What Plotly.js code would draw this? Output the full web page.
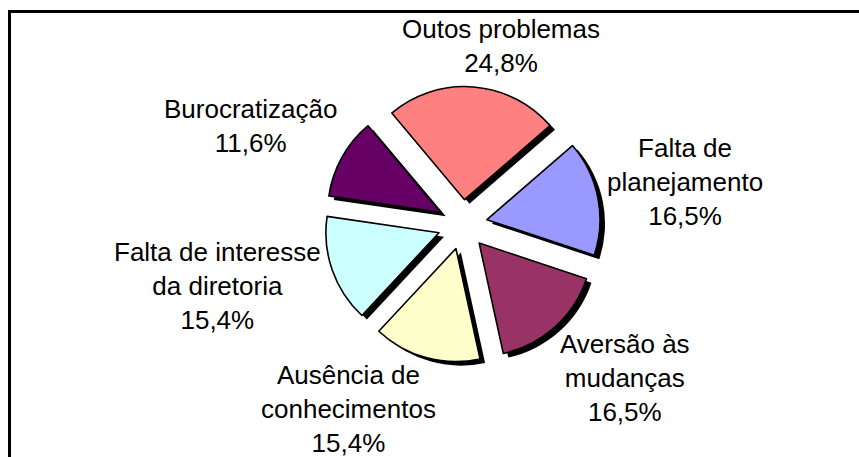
<!DOCTYPE html>
<html>
<head>
<meta charset="utf-8">
<script src="https://cdn.plot.ly/plotly-3.0.1.min.js"></script>
<style>html,body{margin:0;padding:0;background:#fff;}#chart{width:859px;height:457px;}</style>
</head>
<body>
<div id="chart"></div>
<script>
// ---- data ----
const categories = ["Outos problemas", "Falta de planejamento", "Aversão às mudanças", "Ausência de conhecimentos", "Falta de interesse da diretoria", "Burocratização"];
const labelLines = ["Outos problemas", "Falta de<br>planejamento", "Aversão às<br>mudanças", "Ausência de<br>conhecimentos", "Falta de interesse<br>da diretoria", "Burocratização"];
const values = [24.8, 16.5, 16.5, 15.4, 15.4, 11.6];

// ---- styles ----
const colors = ["#FF8080", "#9999FF", "#993366", "#FFFFCC", "#CCFFFF", "#660066"];
const W = 859, H = 457;
const cx = 462.5, cy = 224.5, half = 138;   // pie domain centre / half-size in px
const pull = 0.22, rot = -40;
const shadowDx = 5, shadowDy = 4;
// label anchor centres in px
const labelPos = [[501, 46], [685, 182], [625, 378], [348, 409], [217, 286], [250, 126]];

function dom(dx, dy) {
  return {
    x: [(cx - half + dx) / W, (cx + half + dx) / W],
    y: [1 - (cy + half + dy) / H, 1 - (cy - half + dy) / H]
  };
}

const common = {
  type: "pie", labels: categories, values: values, sort: false,
  direction: "clockwise", rotation: rot, pull: values.map(() => pull),
  textinfo: "none", hoverinfo: "skip", showlegend: false
};

const shadow = Object.assign({}, common, {
  domain: dom(shadowDx, shadowDy),
  marker: {colors: values.map(() => "#000000"), line: {width: 0}}
});
const main = Object.assign({}, common, {
  domain: dom(0, 0),
  marker: {colors: colors, line: {color: "#000000", width: 1.6}}
});

const fmt = v => v.toFixed(1).replace(".", ",") + "%";
const annotations = categories.map((c, i) => ({
  xref: "paper", yref: "paper",
  x: labelPos[i][0] / W, y: 1 - labelPos[i][1] / H,
  xanchor: "center", yanchor: "middle",
  text: labelLines[i] + "<br>" + fmt(values[i]),
  showarrow: false, align: "center",
  font: {family: "Liberation Sans, Arial, sans-serif", size: 26, color: "#000"}
}));

const layout = {
  width: W, height: H,
  margin: {l: 0, r: 0, t: 0, b: 0},
  paper_bgcolor: "#ffffff", plot_bgcolor: "#ffffff",
  annotations: annotations,
  shapes: [{
    type: "rect", xref: "paper", yref: "paper",
    x0: 9.5 / W, x1: 1.02, y0: -0.02, y1: 1 - 11.5 / H,
    line: {color: "#000", width: 3}, fillcolor: "rgba(0,0,0,0)", layer: "below"
  }]
};

Plotly.newPlot("chart", [shadow, main], layout, {staticPlot: true, displayModeBar: false});
</script>
</body>
</html>
